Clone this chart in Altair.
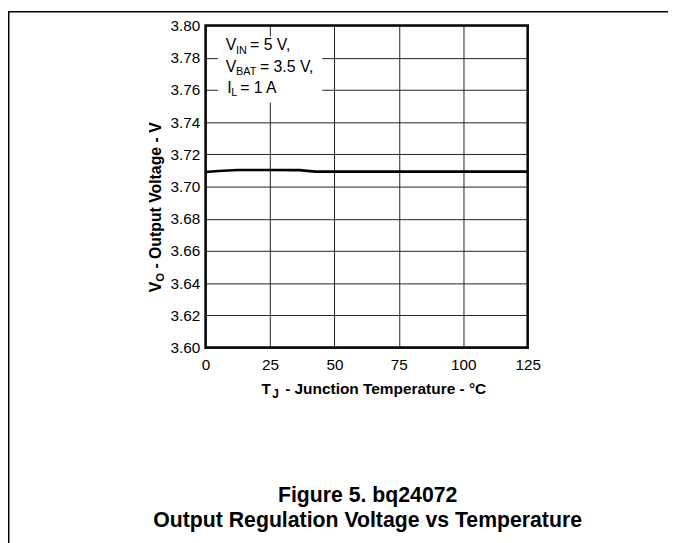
import altair as alt
import pandas as pd

# ---- data ----
temps = [0, 5, 12.5, 25, 36.5, 42.5, 50, 75, 100, 125]
volts = [3.7090, 3.7097, 3.7103, 3.7103, 3.7102, 3.7093, 3.7093, 3.7093, 3.7093, 3.7093]
x_ticks = [0, 25, 50, 75, 100, 125]
y_ticks = [3.60, 3.62, 3.64, 3.66, 3.68, 3.70, 3.72, 3.74, 3.76, 3.78, 3.80]
cond_main = ["V", "V", "I"]
cond_sub = ["IN", "BAT", "L"]
cond_rest = ["= 5 V,", "= 3.5 V,", "= 1 A"]
caption = ["Figure 5. bq24072", "Output Regulation Voltage vs Temperature"]

FONT = "Liberation Sans"
W, H = 326, 326

df = pd.DataFrame({"T": temps, "V": volts})
one = pd.DataFrame({"k": [0]})

x_enc = alt.X("T:Q", scale=alt.Scale(domain=[0, 125], nice=False),
              axis=alt.Axis(values=x_ticks, title="", grid=True, ticks=False, domain=False,
                            labelFlush=False, labelPadding=10, labelFontSize=15.5, labelFont=FONT,
                            labelColor="#000", gridColor="#222", gridWidth=1, format="d"))
y_enc = alt.Y("V:Q", scale=alt.Scale(domain=[3.60, 3.80], nice=False, zero=False),
              axis=alt.Axis(values=y_ticks, title="", grid=True, ticks=False, domain=False,
                            labelFlush=False, labelPadding=6, labelFontSize=15.5, labelFont=FONT,
                            labelColor="#000", gridColor="#222", gridWidth=1, format=".2f"))

line = alt.Chart(df).mark_line(color="#000", strokeWidth=2.6).encode(x=x_enc, y=y_enc)

# white box behind the condition text
box = alt.Chart(one).mark_rect(fill="#fff").encode(
    x=alt.value(12.5), x2=alt.value(118), y=alt.value(11), y2=alt.value(78))


def txt(s, x, y, size, bold=False, angle=0, align="left"):
    kw = dict(font=FONT, fontSize=size, color="#000", align=align, baseline="alphabetic")
    if bold:
        kw["fontWeight"] = "bold"
    if angle:
        kw["angle"] = angle
    return alt.Chart(pd.DataFrame({"s": [s]})).mark_text(**kw).encode(
        text="s:N", x=alt.value(x), y=alt.value(y))


layers = [line, box]
# condition lines
base_y = [25, 47, 68]
main_x = [20.5, 20.5, 21.8]
sub_x = [30.8, 30.8, 26]
rest_x = [45, 55, 35]
for i in range(3):
    layers.append(txt(cond_main[i], main_x[i], base_y[i], 16))
    layers.append(txt(cond_sub[i], sub_x[i], base_y[i] + 3.5, 11))
    layers.append(txt(cond_rest[i], rest_x[i], base_y[i], 16))

# x title
layers.append(txt("T", 56.5, 373, 15.6, bold=True))
layers.append(txt("J", 67.5, 377, 12, bold=True))
layers.append(txt("- Junction Temperature - \u00b0C", 80.5, 373, 15.6, bold=True))

# y title (rotated)
yx = -45.5
ystart = 270
layers.append(txt("V", yx, ystart, 16, bold=True, angle=270))
layers.append(txt("O", yx + 3.5, ystart - 10.7, 11.5, bold=True, angle=270))
layers.append(txt("- Output Voltage - V", yx, ystart - 24, 16, bold=True, angle=270))

# caption
layers.append(txt(caption[0], 164, 482, 21.5, bold=True, align="center"))
layers.append(txt(caption[1], 164, 508, 21.5, bold=True, align="center"))

# page frame lines
layers.append(alt.Chart(one).mark_rule(color="#000", strokeWidth=1.5).encode(
    x=alt.value(-199.25), y=alt.value(-14), y2=alt.value(530)))
layers.append(alt.Chart(one).mark_rule(color="#000", strokeWidth=1.5).encode(
    x=alt.value(-200), x2=alt.value(470), y=alt.value(-14)))

chart = alt.layer(*layers).properties(
    width=W, height=H,
    autosize=alt.AutoSizeParams(type="none"),
    padding={"left": 200, "top": 14.5, "right": 142, "bottom": 194.5},
    background="#fff",
).configure_view(stroke="#000", strokeWidth=2.6)

chart.save("out.html", embed_options={"renderer": "svg", "actions": False})
